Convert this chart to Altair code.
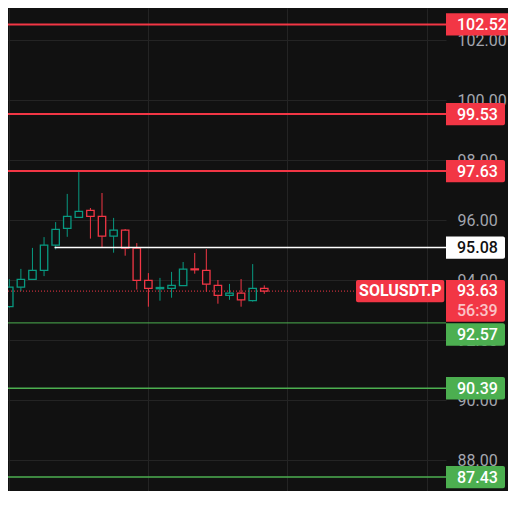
import altair as alt
import pandas as pd

# ---- data ----
candle_index = list(range(24))
opens = [93.56, 93.11, 93.76, 94.02, 94.32, 95.16, 95.72, 96.09, 96.32, 96.12, 95.46, 95.66,
         95.06, 93.99, 93.71, 93.72, 93.81, 94.37, 94.32, 93.82, 93.49, 93.56, 93.31, 93.72]
highs = [93.70, 94.03, 94.37, 95.07, 95.43, 95.93, 96.87, 97.61, 96.40, 96.90, 96.07, 95.70,
         95.23, 94.23, 94.07, 94.27, 94.60, 94.90, 95.03, 94.00, 93.87, 94.03, 94.53, 93.82]
lows = [93.05, 93.08, 93.63, 94.02, 94.13, 95.02, 95.44, 96.09, 95.38, 95.07, 94.91, 94.81,
        93.68, 93.11, 93.31, 93.41, 93.81, 94.21, 93.61, 93.21, 93.34, 93.11, 93.28, 93.54]
closes = [93.11, 93.76, 94.02, 94.32, 95.16, 95.69, 96.12, 96.29, 96.12, 95.46, 95.66, 95.06,
          93.99, 93.72, 93.75, 93.82, 94.36, 94.34, 93.86, 93.49, 93.56, 93.34, 93.72, 93.63]

level_prices = [102.52, 99.53, 97.63, 95.08, 92.57, 90.39, 87.43]
level_kinds = ["resistance", "resistance", "resistance", "pivot", "support", "support", "support"]
pivot_start_index = 4.9

symbol = "SOLUSDT.P"
last_price = 93.63
countdown = "56:39"

price_ticks = [88, 90, 92, 94, 96, 98, 100, 102]
time_grid = [1, 13, 25, 37]

# ---- styles ----
BG = "#111111"
GRID = "#242424"
UP = "#089981"
DOWN = "#f23645"
GREEN = "#4caf50"
WHITE = "#ffffff"
AXIS_TEXT = "#a3a6af"
FONT = "Roboto"

W, H = 438, 483
XDOM = [0.889, 38.68]
YDOM = [86.9667, 103.0667]

kind_style = {
    "resistance": dict(color=DOWN, width=2.0, text=WHITE),
    "pivot": dict(color=WHITE, width=1.5, text="#111111"),
    "support": dict(color=GREEN, width=1.5, text=WHITE),
}

candles = pd.DataFrame({"i": candle_index, "open": opens, "high": highs,
                        "low": lows, "close": closes})
candles["dir"] = ["up" if c >= o else "down" for o, c in zip(opens, closes)]

xscale = alt.Scale(domain=XDOM, nice=False, zero=False, padding=0)
yscale = alt.Scale(domain=YDOM, nice=False, zero=False, padding=0)
xaxis = alt.Axis(values=time_grid, labels=False, ticks=False, domain=False, grid=True,
                 gridColor=GRID, gridWidth=1, title=None)
yaxis = alt.Axis(values=price_ticks, orient="right", format=".2f", labels=True, ticks=False,
                 domain=False, grid=True, gridColor=GRID, gridWidth=1, title=None,
                 labelColor=AXIS_TEXT, labelFont=FONT, labelFontSize=16, labelAlign="left",
                 labelBaseline="middle", labelPadding=11, labelOverlap=False)


def X(field):
    return alt.X(field, type="quantitative", scale=xscale, axis=xaxis)


def Y(field):
    return alt.Y(field, type="quantitative", scale=yscale, axis=yaxis)


dir_color = alt.Color("dir:N", scale=alt.Scale(domain=["up", "down"], range=[UP, DOWN]), legend=None)

base = alt.Chart(candles)
wicks = base.mark_rule(strokeWidth=1).encode(
    x=X("i"), y=Y("low"), y2="high", color=dir_color)
bodies = base.mark_bar(orient="vertical", size=7.4, fill=BG, strokeWidth=1.3).encode(
    x=X("i"), y=Y("open"), y2="close", stroke=dir_color)

layers = [wicks, bodies]

# level lines
for p, k in zip(level_prices, level_kinds):
    st = kind_style[k]
    df = pd.DataFrame({"price": [p], "start": [pivot_start_index]})
    ch = alt.Chart(df)
    if k == "pivot":
        line = ch.mark_rule(color=st["color"], strokeWidth=st["width"]).encode(
            x=X("start"), x2=alt.value(W), y=Y("price"))
    else:
        w = st["width"]
        if abs(p - last_price) < 1.2 and k == "support":
            w = 1.0
        line = ch.mark_rule(color=st["color"], strokeWidth=w).encode(y=Y("price"))
    layers.append(line)

# current price dotted line
cur = pd.DataFrame({"price": [last_price], "sym": [symbol], "cd": [countdown]})
layers.append(alt.Chart(cur).mark_rule(color=DOWN, strokeWidth=1, strokeDash=[1, 2]).encode(
    x=alt.value(0), x2=alt.value(347), y=Y("price")))

# right-hand price labels
for p, k in zip(level_prices, level_kinds):
    st = kind_style[k]
    df = pd.DataFrame({"price": [p]})
    ch = alt.Chart(df)
    off = 0
    if k == "support" and abs(p - last_price) < 1.2:
        off = 11.6
    right = 504.7 if p >= 100 else 497
    box = ch.mark_bar(orient="horizontal", size=22.4, color=st["color"], yOffset=off,
                      cornerRadiusTopRight=2, cornerRadiusBottomRight=2).encode(
        y=Y("price"), x=alt.value(438), x2=alt.value(right))
    txt = ch.mark_text(align="left", baseline="middle", font=FONT, fontSize=16, fontWeight=500,
                       color=st["text"], yOffset=off + 0.5).encode(
        y=Y("price"), x=alt.value(449), text=alt.Text("price:Q", format=".2f"))
    layers += [box, txt]

# current price box with countdown
cch = alt.Chart(cur)
layers.append(cch.mark_bar(orient="horizontal", size=41.7, color=DOWN, yOffset=9.8,
                           cornerRadiusTopRight=2, cornerRadiusBottomRight=2).encode(
    y=Y("price"), x=alt.value(438), x2=alt.value(497)))
layers.append(cch.mark_text(align="left", baseline="middle", font=FONT, fontSize=16, fontWeight=500,
                            color=WHITE, yOffset=0.3).encode(
    y=Y("price"), x=alt.value(449), text=alt.Text("price:Q", format=".2f")))
layers.append(cch.mark_text(align="left", baseline="middle", font=FONT, fontSize=16, fontWeight=500,
                            color=WHITE, opacity=0.7, yOffset=20).encode(
    y=Y("price"), x=alt.value(449), text="cd:N"))
# symbol label
layers.append(cch.mark_bar(orient="horizontal", size=22.3, color=DOWN, cornerRadius=2).encode(
    y=Y("price"), x=alt.value(348), x2=alt.value(436.3)))
layers.append(cch.mark_text(align="center", baseline="middle", font=FONT, fontSize=16, fontWeight="bold",
                            color=WHITE, yOffset=0.3).encode(
    y=Y("price"), x=alt.value(392.3), text="sym:N"))

chart = alt.layer(*layers).properties(
    width=W, height=H,
    autosize=alt.AutoSizeParams(type="none"),
    padding={"left": 0, "top": 0, "right": 62, "bottom": 0},
    background=BG,
).configure_view(strokeWidth=0)

chart.save("out.html", embed_options={"renderer": "svg", "actions": False})
